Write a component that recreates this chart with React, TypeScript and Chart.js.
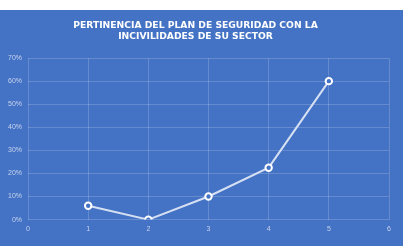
import React, { useEffect, useRef } from "react";
import { Chart, registerables } from "chart.js";

Chart.register(...registerables);

const titleLines = ["PERTINENCIA DEL PLAN DE SEGURIDAD CON LA", "INCIVILIDADES DE SU SECTOR"];
const xValues = [1, 2, 3, 4, 5];
const yValues = [6, 0, 10, 22.5, 60];
const xMin = 0;
const xMax = 6;
const yMin = 0;
const yMax = 70;

export default function App() {
  const ref = useRef<HTMLCanvasElement>(null);
  useEffect(() => {
    document.body.style.margin = "0";
    const ctx = ref.current!;
    const chart = new Chart(ctx, {
      type: "line",
      data: {
        datasets: [
          {
            data: xValues.map((x, i) => ({ x, y: yValues[i] })),
            borderColor: "#d5e0f3",
            borderWidth: 2,
            pointRadius: 3.2,
            pointBorderWidth: 2,
            pointBorderColor: "#ffffff",
            pointBackgroundColor: "#4472C4",
            tension: 0,
          },
        ],
      },
      options: {
        responsive: false,
        animation: false,
        layout: { padding: { left: 2, right: 14, top: 10, bottom: 8 } },
        plugins: {
          legend: { display: false },
          tooltip: { enabled: false },
          title: {
            display: true,
            text: titleLines,
            color: "#ffffff",
            font: { family: "'DejaVu Sans', sans-serif", size: 9.2, weight: "bold" },
            lineHeight: 1.85,
            padding: { top: 0, bottom: 16 },
          },
        },
        scales: {
          x: {
            type: "linear",
            min: xMin,
            max: xMax,
            ticks: { stepSize: 1, color: "#c8d4ee", font: { size: 7 }, padding: 5 },
            grid: { color: "rgba(255,255,255,0.18)", drawTicks: false },
            border: { display: false },
          },
          y: {
            min: yMin,
            max: yMax,
            ticks: {
              stepSize: 10,
              color: "#c8d4ee",
              font: { size: 7 },
              padding: 6,
              callback: (v: any) => v + "%",
            },
            grid: { color: "rgba(255,255,255,0.18)", drawTicks: false },
            border: { display: false },
          },
        },
      },
    });
    return () => chart.destroy();
  }, []);
  return (
    <div style={{ position: "absolute", left: 0, top: 10, width: 403, height: 236, background: "#4472C4" }}>
      <canvas ref={ref} width={403} height={236} style={{ display: "block" }} />
    </div>
  );
}
